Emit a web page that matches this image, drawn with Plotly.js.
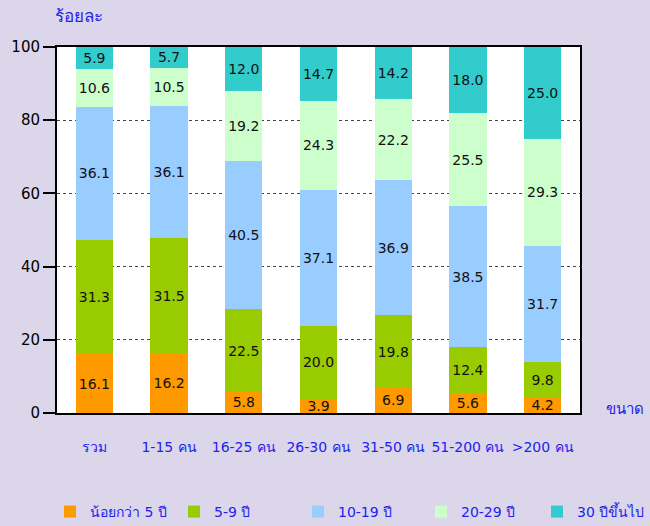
<!DOCTYPE html>
<html>
<head>
<meta charset="utf-8">
<script src="https://cdn.plot.ly/plotly-3.0.1.min.js"></script>
<style>body{margin:0;padding:0;background:#DCD6EA;}</style>
</head>
<body>
<div id="chart" style="width:650px;height:526px;"></div>
<script>
const categories = ["รวม", "1-15 คน", "16-25 คน", "26-30 คน", "31-50 คน", "51-200 คน", ">200 คน"];
const seriesNames = ["น้อยกว่า 5 ปี", "5-9 ปี", "10-19 ปี", "20-29 ปี", "30 ปีขึ้นไป"];
const under5 = [16.1, 16.2, 5.8, 3.9, 6.9, 5.6, 4.2];
const y5to9 = [31.3, 31.5, 22.5, 20.0, 19.8, 12.4, 9.8];
const y10to19 = [36.1, 36.1, 40.5, 37.1, 36.9, 38.5, 31.7];
const y20to29 = [10.6, 10.5, 19.2, 24.3, 22.2, 25.5, 29.3];
const y30plus = [5.9, 5.7, 12.0, 14.7, 14.2, 18.0, 25.0];
const yTicks = [0, 20, 40, 60, 80, 100];

const colors = ["#FF9900", "#99CC00", "#99CCFF", "#CCFFCC", "#33CCCC"];
const allSeries = [under5, y5to9, y10to19, y20to29, y30plus];
const legendIds = ["legend", "legend2", "legend3", "legend4", "legend5"];
// legend left edges in container fraction
const legendX = [50 / 650, 174 / 650, 298 / 650, 421 / 650, 537 / 650];

const traces = allSeries.map((vals, i) => ({
  type: "bar",
  name: seriesNames[i],
  legend: legendIds[i],
  x: categories,
  y: vals,
  marker: {color: colors[i], line: {width: 0}},
  texttemplate: "%{y:.1f}",
  textposition: "inside",
  insidetextanchor: "middle",
  textangle: 0,
  constraintext: "none",
  textfont: {family: "DejaVu Sans", size: 14, color: "#111111"},
  hoverinfo: "none"
}));

const layout = {
  width: 650,
  height: 526,
  barmode: "stack",
  bargap: 0.5,
  paper_bgcolor: "#DCD6EA",
  plot_bgcolor: "#FFFFFF",
  margin: {l: 57, r: 70, t: 47, b: 113},
  showlegend: true,
  xaxis: {
    type: "category",
    showline: true, linecolor: "#000000", linewidth: 2, mirror: true,
    ticks: "", ticklabelstandoff: 20,
    tickfont: {family: "DejaVu Sans", size: 14, color: "#2222EE"},
    showgrid: false, zeroline: false, fixedrange: true
  },
  yaxis: {
    range: [0, 100],
    tickvals: yTicks,
    ticktext: yTicks.map(String),
    ticks: "outside", ticklen: 12, tickwidth: 2, tickcolor: "#000000",
    tickfont: {family: "DejaVu Sans", size: 15, color: "#000000"},
    showline: true, linecolor: "#000000", linewidth: 2, mirror: true,
    showgrid: true, gridcolor: "#444444", gridwidth: 1, griddash: "dot",
    zeroline: false, fixedrange: true
  },
  annotations: [
    {text: "ร้อยละ", xref: "paper", yref: "paper", x: -0.008, y: 1.085, xanchor: "left", yanchor: "middle",
     showarrow: false, font: {family: "DejaVu Sans", size: 17, color: "#2222EE"}},
    {text: "ขนาด", xref: "paper", yref: "paper", x: 1.045, y: 0.012, xanchor: "left", yanchor: "middle",
     showarrow: false, font: {family: "DejaVu Sans", size: 15, color: "#2222EE"}}
  ]
};

legendIds.forEach((id, i) => {
  layout[id] = {
    orientation: "h",
    xref: "container", yref: "container",
    x: legendX[i], xanchor: "left",
    y: 1 - 512 / 526, yanchor: "middle",
    bgcolor: "rgba(0,0,0,0)",
    borderwidth: 0,
    font: {family: "DejaVu Sans", size: 14, color: "#2222EE"},
    itemclick: false
  };
});

Plotly.newPlot("chart", traces, layout, {displayModeBar: false, staticPlot: true});
</script>
</body>
</html>
